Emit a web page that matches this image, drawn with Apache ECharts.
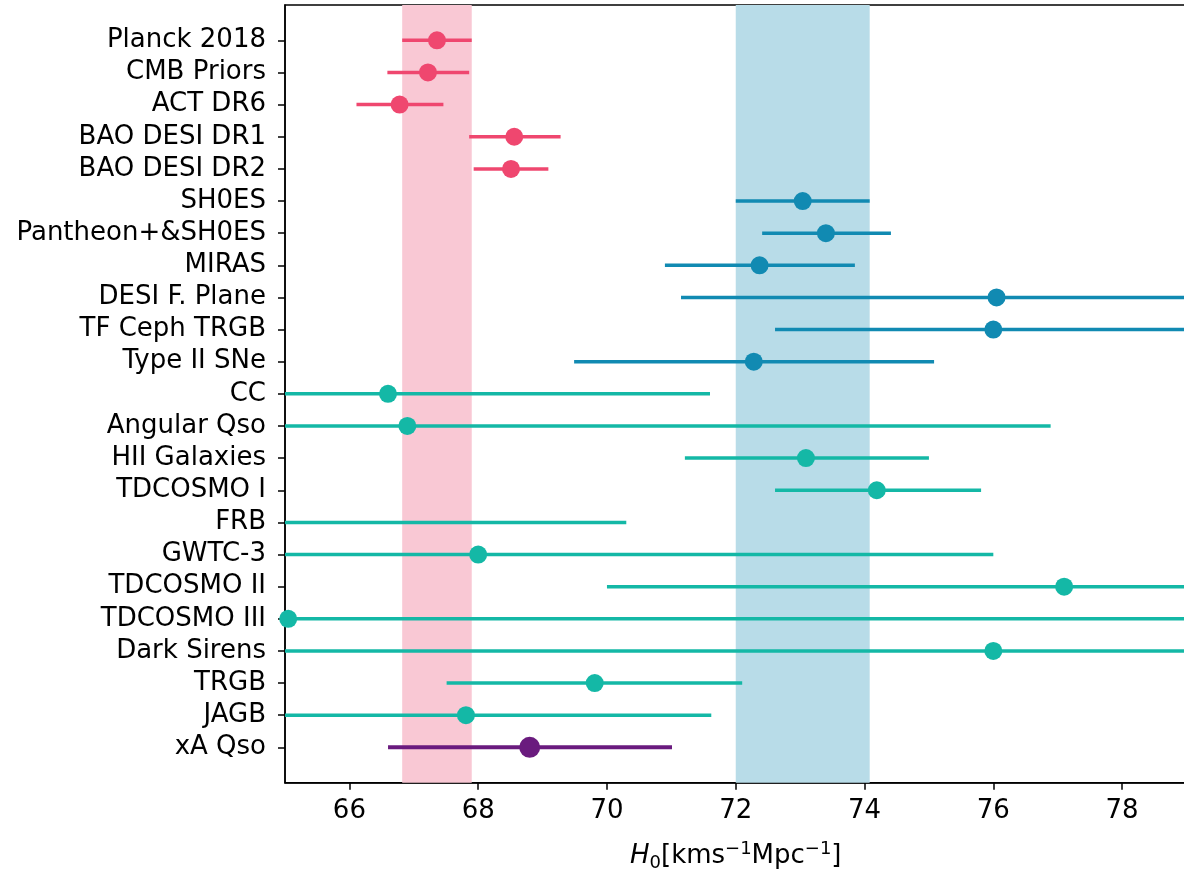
<!DOCTYPE html>
<html>
<head>
<meta charset="utf-8">
<script src="https://cdn.jsdelivr.net/npm/echarts@6/dist/echarts.min.js"></script>
<style>
  html, body { margin: 0; padding: 0; background: #fff; }
  #chart { width: 1184px; height: 869px; }
</style>
</head>
<body>
<div id="chart"></div>
<script>
// measurement names, top to bottom
const labels = [
  'Planck 2018', 'CMB Priors', 'ACT DR6', 'BAO DESI DR1', 'BAO DESI DR2',
  'SH0ES', 'Pantheon+&SH0ES', 'MIRAS', 'DESI F. Plane', 'TF Ceph TRGB', 'Type II SNe',
  'CC', 'Angular Qso', 'HII Galaxies', 'TDCOSMO I', 'FRB', 'GWTC-3', 'TDCOSMO II',
  'TDCOSMO III', 'Dark Sirens', 'TRGB', 'JAGB', 'xA Qso'
]
// H0 central values and error bar ends
const centers = [67.36, 67.22, 66.78, 68.56, 68.51,
  73.04, 73.40, 72.37, 76.05, 76.00, 72.28,
  66.60, 66.90, 73.09, 74.19, 62.30, 68.00, 77.10,
  65.05, 76.00, 69.81, 67.81, 68.80]
const lower = [66.82, 66.59, 66.11, 67.86, 67.93,
  72.00, 72.41, 70.90, 71.15, 72.61, 69.49,
  61.60, 56.90, 71.21, 72.61, 54.30, 60.00, 70.00,
  50.00, 60.00, 67.51, 64.00, 66.60]
const upper = [67.90, 67.86, 67.46, 69.28, 69.09,
  74.08, 74.41, 73.85, 80.95, 79.40, 75.08,
  71.60, 76.89, 75.00, 75.81, 70.30, 76.00, 84.20,
  80.00, 92.00, 72.10, 71.62, 71.01]
// colour group of each row: 0 CMB/BAO, 1 distance ladder, 2 other, 3 this work
const groups = [0, 0, 0, 0, 0, 1, 1, 1, 1, 1, 1, 2, 2, 2, 2, 2, 2, 2, 2, 2, 2, 2, 3]
// shaded bands (Planck 2018 and SH0ES 1-sigma)
const planckBand = [66.82, 67.90]
const sh0esBand = [72.00, 74.08]
const xTicks = [66, 68, 70, 72, 74, 76, 78]

const colors = ['#ef476f', '#118ab2', '#14b8a6', '#6a1b7e']

const chart = echarts.init(document.getElementById('chart'))

const barData = labels.map((name, i) => ({
  value: [lower[i], upper[i], i],
  itemStyle: { color: colors[groups[i]] }
}))
const pointData = labels.map((name, i) => ({
  value: [centers[i], i],
  symbolSize: groups[i] === 3 ? 21 : 18,
  itemStyle: { color: colors[groups[i]] }
}))
const yIdx = labels.map((n, i) => i)

const font = 'DejaVu Sans'
const fs = 26

chart.setOption({
  animation: false,
  grid: {
    left: 285, top: 5, width: 901.5, height: 777.7,
    outerBoundsMode: 'none', containLabel: false,
    show: true, borderColor: '#000', borderWidth: 1.5, backgroundColor: 'transparent'
  },
  xAxis: {
    type: 'value', min: 65, max: 79,
    axisLine: { show: true, onZero: false, lineStyle: { color: '#000', width: 1.5 } },
    axisTick: { show: true, customValues: xTicks, length: 7, lineStyle: { color: '#000', width: 1.5 } },
    axisLabel: { customValues: xTicks, color: '#000', fontFamily: font, fontSize: fs, margin: 16 },
    splitLine: { show: false },
    name: '{i|H}{sub|0}{n|[kms}{sup|−1}{n|Mpc}{sup|−1}{n|]}',
    nameLocation: 'middle',
    nameGap: 58,
    nameTextStyle: {
      color: '#000', fontFamily: font, fontSize: fs,
      rich: {
        i: { fontFamily: font, fontStyle: 'italic', fontSize: fs, color: '#000' },
        n: { fontFamily: font, fontSize: fs, color: '#000' },
        sub: { fontFamily: font, fontSize: 18, color: '#000', verticalAlign: 'bottom', padding: [12, 0, 0, 0] },
        sup: { fontFamily: font, fontSize: 18, color: '#000', verticalAlign: 'top', padding: [0, 0, 14, 0] }
      }
    }
  },
  yAxis: {
    type: 'value', min: -1.1, max: 23.1, inverse: true,
    axisLine: { show: true, onZero: false, lineStyle: { color: '#000', width: 1.5 } },
    axisTick: { show: true, customValues: yIdx, length: 7, lineStyle: { color: '#000', width: 1.5 } },
    axisLabel: {
      customValues: yIdx, color: '#000', fontFamily: font, fontSize: fs, margin: 19,
      formatter: v => labels[Math.round(v)]
    },
    splitLine: { show: false }
  },
  series: [
    {
      // background bands
      type: 'scatter', data: [], z: 0,
      markArea: {
        silent: true,
        data: [
          [{ xAxis: planckBand[0], itemStyle: { color: '#f9c8d4' } }, { xAxis: planckBand[1] }],
          [{ xAxis: sh0esBand[0], itemStyle: { color: '#b8dce8' } }, { xAxis: sh0esBand[1] }]
        ]
      }
    },
    {
      // error bars
      type: 'custom', z: 2, clip: true,
      data: barData,
      encode: { x: [0, 1], y: 2 },
      renderItem: (params, api) => {
        const a = api.coord([api.value(0), api.value(2)])
        const b = api.coord([api.value(1), api.value(2)])
        const isMain = groups[params.dataIndex] === 3
        return {
          type: 'line',
          shape: { x1: a[0], y1: a[1], x2: b[0], y2: b[1] },
          style: { stroke: api.visual('color'), lineWidth: isMain ? 4 : 3.5 }
        }
      }
    },
    {
      // central values
      type: 'scatter', z: 3, clip: true,
      data: pointData,
      itemStyle: { opacity: 1 }
    }
  ]
})

window.addEventListener('resize', () => {
  chart.resize()
})
</script>
</body>
</html>
